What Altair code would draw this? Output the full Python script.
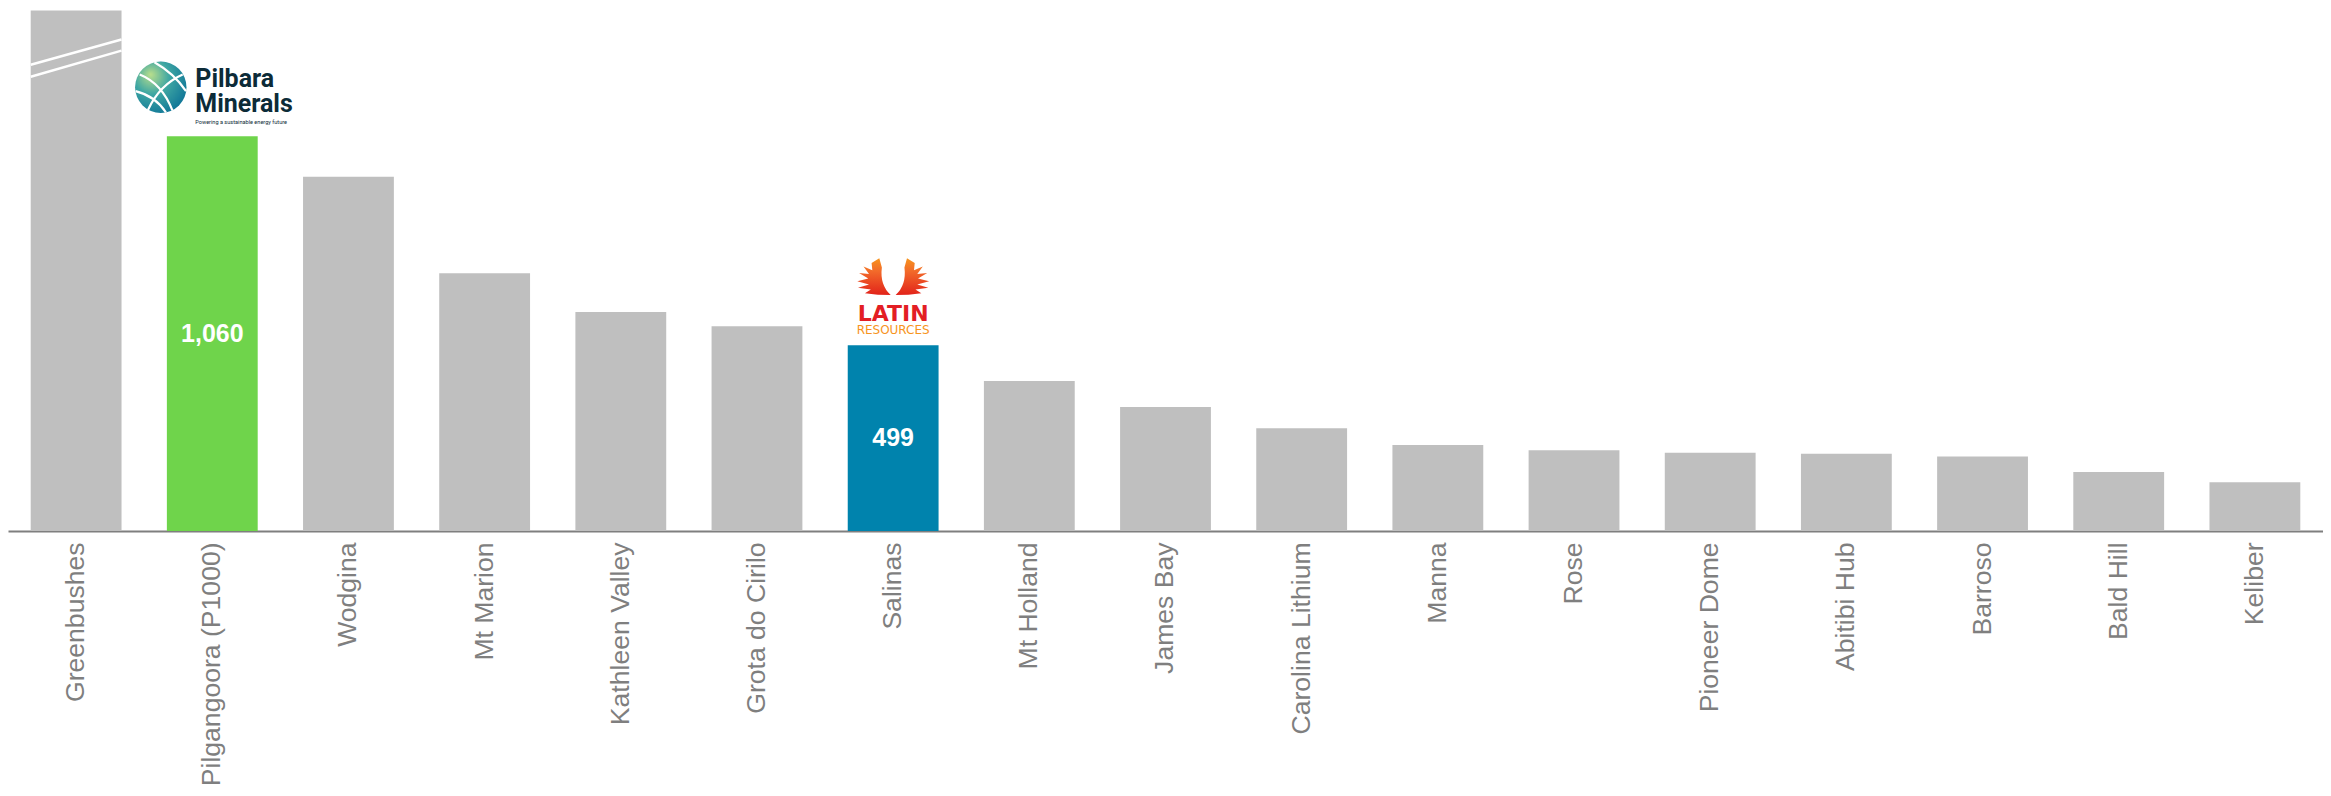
import altair as alt
import pandas as pd

projects = ["Greenbushes", "Pilgangoora (P1000)", "Wodgina", "Mt Marion", "Kathleen Valley",
            "Grota do Cirilo", "Salinas", "Mt Holland", "James Bay", "Carolina Lithium",
            "Manna", "Rose", "Pioneer Dome", "Abitibi Hub", "Barroso", "Bald Hill", "Keliber"]
# Greenbushes is drawn truncated (broken bar) at the top of the chart
values = [1398, 1060, 951, 692, 588, 550, 499, 403, 333, 276, 231, 217, 210, 207, 200, 158, 131]

pilbara_project = "Pilgangoora (P1000)"
latin_project = "Salinas"
labelled = [pilbara_project, latin_project]

# break marks on the truncated Greenbushes bar (left end y, right end y)
break_left = [1252, 1220]
break_right = [1320, 1290]

df = pd.DataFrame({"project": projects, "value": values})
brk = pd.DataFrame({"project": ["Greenbushes"] * 2, "y1": break_left, "y2": break_right})

GRAY = "#BFBFBF"
GREEN = "#6FD44B"
BLUE = "#0083AD"
AXIS_GRAY = "#7F7F7F"

xenc = alt.X(
    "project:N", sort=projects,
    scale=alt.Scale(paddingInner=0.333, paddingOuter=0.1667),
    axis=alt.Axis(title=None, labelAngle=-90, ticks=False, labelFontSize=26.6,
                  labelFont="Liberation Sans", labelColor=AXIS_GRAY,
                  domainColor=AXIS_GRAY, domainWidth=2, labelPadding=11, labelLimit=0,
                  grid=False),
)
yscale = alt.Scale(domain=[0, 1404], nice=False, zero=True)
yenc = alt.Y("value:Q", scale=yscale, axis=None)

base = alt.Chart(df).encode(x=xenc, y=yenc)

bars = base.mark_bar().encode(
    color=alt.when(alt.datum.project == pilbara_project).then(alt.value(GREEN))
    .when(alt.datum.project == latin_project).then(alt.value(BLUE))
    .otherwise(alt.value(GRAY))
)

value_text = alt.Chart(df).transform_filter(
    alt.FieldOneOfPredicate(field="project", oneOf=labelled)
).transform_calculate(mid="datum.value / 2").mark_text(
    font="Liberation Sans", fontSize=25, fontWeight="bold", color="white", baseline="middle"
).encode(
    x=alt.X("project:N", sort=projects),
    y=alt.Y("mid:Q", scale=yscale, axis=None),
    text=alt.Text("value:Q", format=","),
)

breaks = alt.Chart(brk).mark_rule(color="white", strokeWidth=2.5, xOffset=-45.4, x2Offset=45.4).encode(
    x=alt.X("project:N", sort=projects),
    x2=alt.X2("project"),
    y=alt.Y("y1:Q", scale=yscale, axis=None),
    y2="y2:Q",
)

pil = base.transform_filter(alt.datum.project == pilbara_project)
lat = base.transform_filter(alt.datum.project == latin_project)

globe_fill = {
    "gradient": "radial",
    "x1": 0.3, "y1": 0.25, "r1": 0,
    "x2": 0.35, "y2": 0.35, "r2": 0.75,
    "stops": [
        {"offset": 0, "color": "#B9DE8C"},
        {"offset": 0.45, "color": "#3FA7A3"},
        {"offset": 1, "color": "#0D7397"},
    ],
}
globe = pil.mark_point(shape="circle", size=2650, filled=True, fill=globe_fill,
                       fillOpacity=1, strokeWidth=0, xOffset=-51.5, yOffset=-49)
globe_lines_path = ("M -0.82 -0.5 Q 0.05 -0.15 0.45 0.9 "
                    "M 0.85 -0.5 Q -0.05 -0.1 -0.5 0.88 "
                    "M -0.98 0.15 Q -0.2 0.35 0.2 0.98 "
                    "M -0.25 -0.97 Q 0.5 -0.55 0.98 0.15")
globe_lines = pil.mark_point(shape=globe_lines_path, size=2650, filled=False,
                             stroke="white", strokeWidth=2.2, opacity=1,
                             xOffset=-51.5, yOffset=-49)
pil_t1 = pil.mark_text(text="Pilbara", font="Roboto", fontSize=25, fontWeight="bold",
                       color="#0C2B38", align="left", baseline="alphabetic", dx=-17, dy=-49)
pil_t2 = pil.mark_text(text="Minerals", font="Roboto", fontSize=25, fontWeight="bold",
                       color="#0C2B38", align="left", baseline="alphabetic", dx=-17, dy=-24)
pil_t3 = pil.mark_text(text="Powering a sustainable energy future", font="Roboto",
                       fontSize=5.6, color="#0C2B38", align="left", baseline="alphabetic",
                       dx=-17, dy=-12)

wing_fill = {
    "gradient": "linear", "x1": 0, "y1": 0, "x2": 0, "y2": 1,
    "stops": [
        {"offset": 0, "color": "#F7941D"},
        {"offset": 0.35, "color": "#F26A2A"},
        {"offset": 1, "color": "#E2231A"},
    ],
}
left_wing = ("M 0.28 -1 L 0.42 -0.5 Q 0.3 0.45 0.9 1 L 0.2 0.98 L -0.5 0.9 L -0.18 0.7 "
             "L -0.88 0.6 L -0.28 0.42 L -0.92 0.25 L -0.32 0.1 L -0.82 -0.2 L -0.28 -0.15 "
             "L -0.58 -0.55 L -0.1 -0.35 L -0.14 -0.75 Z")
right_wing = ("M -0.28 -1 L -0.42 -0.5 Q -0.3 0.45 -0.9 1 L -0.2 0.98 L 0.5 0.9 L 0.18 0.7 "
              "L 0.88 0.6 L 0.28 0.42 L 0.92 0.25 L 0.32 0.1 L 0.82 -0.2 L 0.28 -0.15 "
              "L 0.58 -0.55 L 0.1 -0.35 L 0.14 -0.75 Z")
wing_l = lat.mark_point(shape=left_wing, size=1350, filled=True, fill=wing_fill,
                        fillOpacity=1, strokeWidth=0, xOffset=-19, yOffset=-68.5)
wing_r = lat.mark_point(shape=right_wing, size=1350, filled=True, fill=wing_fill,
                        fillOpacity=1, strokeWidth=0, xOffset=19, yOffset=-68.5)
lat_t1 = lat.mark_text(text="LATIN", font="DejaVu Sans", fontSize=22, fontWeight="bold",
                       color="#E31E24", align="center", baseline="alphabetic", dy=-24)
lat_t2 = lat.mark_text(text="RESOURCES", font="DejaVu Sans", fontSize=12,
                       color="#F7941D", align="center", baseline="alphabetic", dy=-11)

chart = alt.layer(
    bars, value_text, breaks, globe, globe_lines, pil_t1, pil_t2, pil_t3,
    wing_l, wing_r, lat_t1, lat_t2
).properties(
    width=2316, height=523, padding=0, background="white"
).configure_view(stroke=None)

chart.save("out.html", embed_options={"renderer": "svg", "actions": False})
